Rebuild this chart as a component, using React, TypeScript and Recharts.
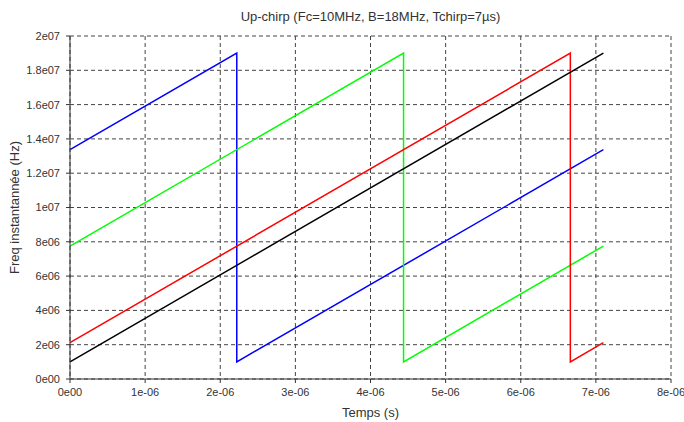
import React from "react"
import { CartesianGrid, Line, LineChart, XAxis, YAxis } from "recharts"

// time (s) / instantaneous frequency (Hz) of each chirp
const blackT = [0, 7.1e-6]
const blackF = [1e6, 1.9e7]
const blueT = [0, 2.22e-6, 2.22e-6, 7.1e-6]
const blueF = [1.337e7, 1.9e7, 1e6, 1.337e7]
const greenT = [0, 4.44e-6, 4.44e-6, 7.1e-6]
const greenF = [7.75e6, 1.9e7, 1e6, 7.75e6]
const redT = [0, 6.66e-6, 6.66e-6, 7.1e-6]
const redF = [2.12e6, 1.9e7, 1e6, 2.12e6]

const xTicks = [0, 1e-6, 2e-6, 3e-6, 4e-6, 5e-6, 6e-6, 7e-6, 8e-6]
const xMinor = [0, 0.5e-6, 1e-6, 1.5e-6, 2e-6, 2.5e-6, 3e-6, 3.5e-6, 4e-6, 4.5e-6, 5e-6, 5.5e-6, 6e-6, 6.5e-6, 7e-6, 7.5e-6, 8e-6]
const yTicks = [0, 2e6, 4e6, 6e6, 8e6, 1e7, 1.2e7, 1.4e7, 1.6e7, 1.8e7, 2e7]
const yMinor = [0, 1e6, 2e6, 3e6, 4e6, 5e6, 6e6, 7e6, 8e6, 9e6, 1e7, 1.1e7, 1.2e7, 1.3e7, 1.4e7, 1.5e7, 1.6e7, 1.7e7, 1.8e7, 1.9e7, 2e7]

const toRows = (t: number[], f: number[]) => t.map((v, i) => ({ t: v, f: f[i] }))

// scilab style: 0e00, 1e-06, 1.2e07
function sci(v: number) {
  if (v === 0) return "0e00"
  const e = Math.floor(Math.log10(Math.abs(v)) + 1e-9)
  const m = Math.round((v / Math.pow(10, e)) * 10) / 10
  const ee = Math.abs(e) < 10 ? "0" + Math.abs(e) : String(Math.abs(e))
  return `${m}e${e < 0 ? "-" : ""}${ee}`
}

const FONT = "'Liberation Sans', Arial, sans-serif"
const AXIS = "#333"

const series = [
  { name: "blue", color: "#0000ff", data: toRows(blueT, blueF) },
  { name: "green", color: "#00ff00", data: toRows(greenT, greenF) },
  { name: "red", color: "#ff0000", data: toRows(redT, redF) },
  { name: "black", color: "#000000", data: toRows(blackT, blackF) },
]

export default function App() {
  return (
    <div style={{ position: "absolute", left: 0, top: 0, width: 684, height: 422, background: "#fff", fontFamily: FONT }}>
      <div
        style={{
          position: "absolute",
          left: 70,
          width: 601,
          top: 9,
          textAlign: "center",
          fontSize: 13,
          color: "#333",
        }}
      >
        Up-chirp (Fc=10MHz, B=18MHz, Tchirp=7µs)
      </div>
      <LineChart width={684} height={422} margin={{ top: 36, right: 13, bottom: 0, left: 0 }}>
        <CartesianGrid stroke="#444" strokeDasharray="4 3" />
        <XAxis
          xAxisId="minor"
          type="number"
          domain={[0, 8e-6]}
          ticks={xMinor}
          tickSize={2}
          tick={false}
          axisLine={false}
          tickLine={{ stroke: AXIS }}
          height={0}
          interval={0}
        />
        <XAxis
          dataKey="t"
          type="number"
          domain={[0, 8e-6]}
          ticks={xTicks}
          interval={0}
          tickFormatter={sci}
          tickSize={4}
          tickMargin={5}
          height={43}
          stroke={AXIS}
          tick={{ fontSize: 11, fill: "#333", fontFamily: FONT }}
          label={{ value: "Temps (s)", position: "insideBottom", offset: 5, fontSize: 13, fill: "#333", fontFamily: FONT }}
        />
        <YAxis
          yAxisId="minor"
          type="number"
          domain={[0, 2e7]}
          ticks={yMinor}
          tickSize={2}
          tick={false}
          axisLine={false}
          tickLine={{ stroke: AXIS }}
          width={0}
          interval={0}
        />
        <YAxis
          type="number"
          domain={[0, 2e7]}
          ticks={yTicks}
          interval={0}
          tickFormatter={sci}
          tickSize={4}
          tickMargin={6}
          width={70}
          stroke={AXIS}
          tick={{ fontSize: 11, fill: "#333", fontFamily: FONT }}
          label={{
            value: "Freq instantannée (Hz)",
            angle: -90,
            position: "insideLeft",
            offset: 14,
            fontSize: 13,
            fill: "#333",
            fontFamily: FONT,
            style: { textAnchor: "middle" },
          }}
        />
        {series.map((s) => (
          <Line
            key={s.name}
            data={s.data}
            dataKey="f"
            type="linear"
            stroke={s.color}
            strokeWidth={1.5}
            dot={false}
            activeDot={false}
            isAnimationActive={false}
          />
        ))}
      </LineChart>
    </div>
  )
}
